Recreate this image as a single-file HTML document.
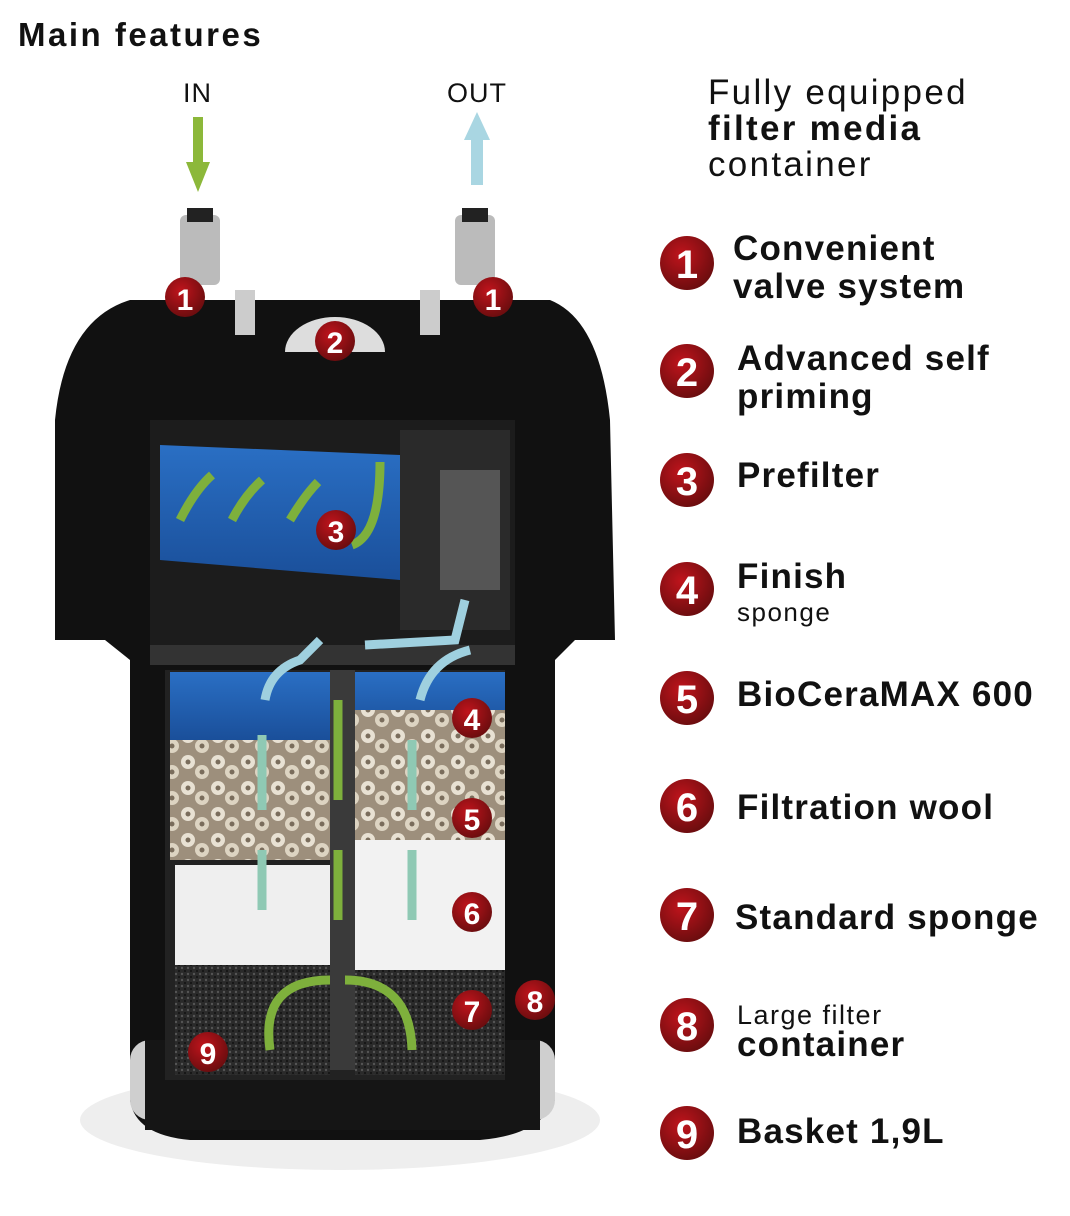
<!DOCTYPE html>
<html><head><meta charset="utf-8"><style>
html,body{margin:0;padding:0;background:#fff;}
body{width:1070px;height:1216px;position:relative;overflow:hidden;font-family:"Liberation Sans",sans-serif;color:#111;}
.t{position:absolute;white-space:nowrap;}
.b{font-weight:bold;letter-spacing:1.2px;}
</style></head><body>
<svg width="1070" height="1216" style="position:absolute;left:0;top:0">
<defs>
<radialGradient id="rg" cx="40%" cy="35%" r="65%"><stop offset="0" stop-color="#c0141c"/><stop offset="1" stop-color="#6e0d0f"/></radialGradient>
<pattern id="cer" width="30" height="26" patternUnits="userSpaceOnUse"><rect width="30" height="26" fill="#9d8f7c"/><circle cx="8" cy="8" r="7" fill="#e8e1d3"/><circle cx="22" cy="18" r="7" fill="#ddd4c2"/><circle cx="8" cy="8" r="2.5" fill="#7a6d5c"/><circle cx="22" cy="18" r="2.5" fill="#7a6d5c"/></pattern>
<pattern id="blk" width="6" height="6" patternUnits="userSpaceOnUse"><rect width="6" height="6" fill="#2a2a2a"/><circle cx="2" cy="2" r="1.2" fill="#555"/><circle cx="5" cy="5" r="1" fill="#111"/></pattern>
<linearGradient id="blu" x1="0" y1="0" x2="0" y2="1"><stop offset="0" stop-color="#2a6fc4"/><stop offset="1" stop-color="#1a4f9a"/></linearGradient>
</defs>
<ellipse cx="340" cy="1120" rx="260" ry="50" fill="#eee"/>
<path d="M130 300 L550 300 Q600 320 610 420 L615 640 L575 640 L555 660 L555 1100 Q540 1135 480 1140 L190 1140 Q135 1135 130 1100 L130 660 L105 640 L55 640 L55 420 Q65 320 130 300 Z" fill="#111"/>
<rect x="130" y="1040" width="425" height="80" rx="20" fill="#cfcfcf"/>
<rect x="145" y="1040" width="395" height="90" fill="#151515"/>
<rect x="150" y="420" width="365" height="225" fill="#1c1c1c"/>
<path d="M160 445 L400 455 L400 580 L160 560 Z" fill="url(#blu)"/>
<rect x="400" y="430" width="110" height="200" fill="#2a2a2a"/>
<rect x="440" y="470" width="60" height="120" fill="#555"/>
<rect x="150" y="645" width="365" height="20" fill="#333"/>
<rect x="165" y="670" width="340" height="410" fill="#222"/>
<rect x="170" y="672" width="160" height="68" fill="url(#blu)"/>
<rect x="355" y="672" width="150" height="60" fill="url(#blu)"/>
<rect x="170" y="740" width="160" height="120" fill="url(#cer)"/>
<rect x="355" y="840" width="150" height="130" fill="#f2f2f2"/>
<rect x="355" y="710" width="150" height="130" fill="url(#cer)"/>
<rect x="175" y="865" width="155" height="100" fill="#efefef"/>
<rect x="175" y="965" width="155" height="110" fill="url(#blk)"/>
<rect x="355" y="970" width="150" height="105" fill="url(#blk)"/>
<rect x="330" y="670" width="25" height="400" fill="#3a3a3a"/>
<rect x="180" y="215" width="40" height="70" rx="6" fill="#bbb"/>
<rect x="187" y="208" width="26" height="14" fill="#222"/>
<rect x="455" y="215" width="40" height="70" rx="6" fill="#bbb"/>
<rect x="462" y="208" width="26" height="14" fill="#222"/>
<rect x="235" y="290" width="20" height="45" fill="#ccc"/>
<rect x="420" y="290" width="20" height="45" fill="#ccc"/>
<path d="M285 352 A50 35 0 0 1 385 352 Z" fill="#ddd"/>
<path d="M193 117 L203 117 L203 162 L210 162 L198 192 L186 162 L193 162 Z" fill="#8cb83a"/>
<path d="M471 185 L483 185 L483 140 L490 140 L477 112 L464 140 L471 140 Z" fill="#a9d6e2"/>
<g fill="none" stroke="#7eb03c" stroke-width="9">
<path d="M180 520 Q195 490 212 475"/><path d="M232 520 Q245 495 262 480"/><path d="M290 520 Q305 495 318 482"/><path d="M352 545 Q380 535 380 462"/>
<path d="M270 1050 Q260 980 330 980"/><path d="M345 980 Q410 980 412 1050"/>
</g>
<g stroke="#7eb03c" stroke-width="9"><line x1="338" y1="700" x2="338" y2="800"/><line x1="338" y1="850" x2="338" y2="920"/></g>
<g stroke="#8fc9b4" stroke-width="9"><line x1="262" y1="735" x2="262" y2="810"/><line x1="262" y1="850" x2="262" y2="910"/><line x1="412" y1="740" x2="412" y2="810"/><line x1="412" y1="850" x2="412" y2="920"/></g>
<g fill="none" stroke="#9fd0df" stroke-width="9"><path d="M265 700 Q270 670 300 660 L320 640"/><path d="M365 645 L455 640 L465 600"/><path d="M420 700 Q430 660 470 650"/></g>
<g font-family="Liberation Sans" font-weight="bold" fill="#fff" text-anchor="middle">
<g><circle cx="185" cy="297" r="20" fill="url(#rg)"/><text x="185" y="310" font-size="30">1</text></g>
<g><circle cx="493" cy="297" r="20" fill="url(#rg)"/><text x="493" y="310" font-size="30">1</text></g>
<g><circle cx="335" cy="341" r="20" fill="url(#rg)"/><text x="335" y="353" font-size="30">2</text></g>
<g><circle cx="336" cy="530" r="20" fill="url(#rg)"/><text x="336" y="542" font-size="30">3</text></g>
<g><circle cx="472" cy="718" r="20" fill="url(#rg)"/><text x="472" y="730" font-size="30">4</text></g>
<g><circle cx="472" cy="818" r="20" fill="url(#rg)"/><text x="472" y="830" font-size="30">5</text></g>
<g><circle cx="472" cy="912" r="20" fill="url(#rg)"/><text x="472" y="924" font-size="30">6</text></g>
<g><circle cx="472" cy="1010" r="20" fill="url(#rg)"/><text x="472" y="1022" font-size="30">7</text></g>
<g><circle cx="535" cy="1000" r="20" fill="url(#rg)"/><text x="535" y="1012" font-size="30">8</text></g>
<g><circle cx="208" cy="1052" r="20" fill="url(#rg)"/><text x="208" y="1064" font-size="30">9</text></g>
<g><circle cx="687" cy="263" r="27" fill="url(#rg)"/><text x="687" y="278" font-size="40">1</text></g>
<g><circle cx="687" cy="371" r="27" fill="url(#rg)"/><text x="687" y="386" font-size="40">2</text></g>
<g><circle cx="687" cy="480" r="27" fill="url(#rg)"/><text x="687" y="495" font-size="40">3</text></g>
<g><circle cx="687" cy="589" r="27" fill="url(#rg)"/><text x="687" y="604" font-size="40">4</text></g>
<g><circle cx="687" cy="698" r="27" fill="url(#rg)"/><text x="687" y="713" font-size="40">5</text></g>
<g><circle cx="687" cy="806" r="27" fill="url(#rg)"/><text x="687" y="821" font-size="40">6</text></g>
<g><circle cx="687" cy="915" r="27" fill="url(#rg)"/><text x="687" y="930" font-size="40">7</text></g>
<g><circle cx="687" cy="1025" r="27" fill="url(#rg)"/><text x="687" y="1040" font-size="40">8</text></g>
<g><circle cx="687" cy="1133" r="27" fill="url(#rg)"/><text x="687" y="1148" font-size="40">9</text></g>
</g>
</svg>
<div class="t b" style="left:18px;top:16px;font-size:33px;letter-spacing:2.5px;">Main features</div>
<div class="t" style="left:183px;top:78px;font-size:27px;letter-spacing:1px;">IN</div>
<div class="t" style="left:447px;top:78px;font-size:27px;letter-spacing:1px;">OUT</div>
<div class="t" style="left:708px;top:75px;font-size:35px;line-height:36px;letter-spacing:2.3px;">Fully equipped<br><b>filter media</b><br>container</div>
<div class="t b" style="left:733px;top:230px;font-size:35px;line-height:38px;">Convenient<br>valve system</div>
<div class="t b" style="left:737px;top:340px;font-size:35px;line-height:38px;">Advanced self<br>priming</div>
<div class="t b" style="left:737px;top:456px;font-size:35px;">Prefilter</div>
<div class="t b" style="left:737px;top:557px;font-size:35px;">Finish</div>
<div class="t" style="left:737px;top:597px;font-size:26px;letter-spacing:1.5px;">sponge</div>
<div class="t b" style="left:737px;top:675px;font-size:35px;">BioCeraMAX 600</div>
<div class="t b" style="left:737px;top:788px;font-size:35px;">Filtration wool</div>
<div class="t b" style="left:735px;top:898px;font-size:35px;">Standard sponge</div>
<div class="t" style="left:737px;top:1000px;font-size:27px;letter-spacing:1.5px;">Large filter</div>
<div class="t b" style="left:737px;top:1025px;font-size:35px;">container</div>
<div class="t b" style="left:737px;top:1112px;font-size:35px;">Basket 1,9L</div>
</body></html>
